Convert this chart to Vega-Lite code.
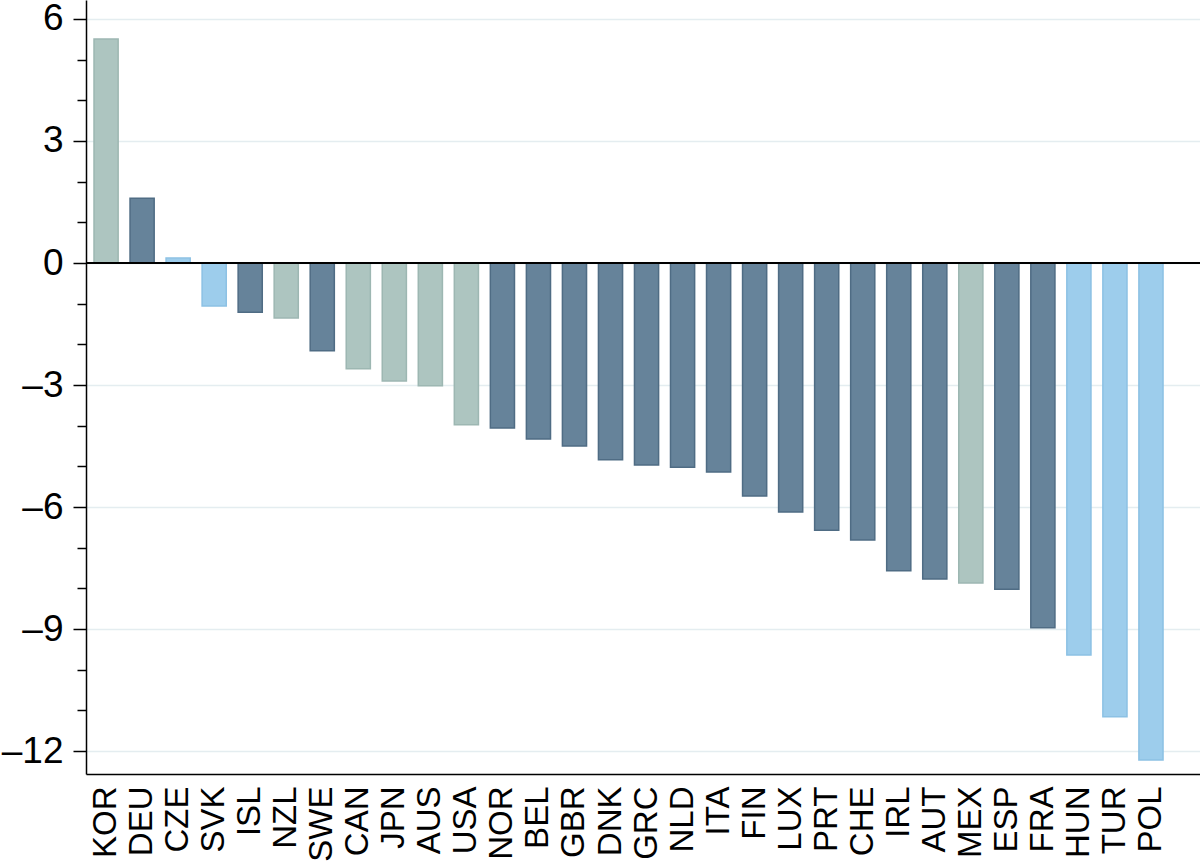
{
  "$schema": "https://vega.github.io/schema/vega-lite/v6.json",
  "width": 1114,
  "height": 774,
  "autosize": "none",
  "padding": {"left": 86, "top": 0, "right": 0, "bottom": 92},
  "background": "white",
  "config": {"view": {"stroke": null}, "font": "Liberation Sans"},
  "data": {"values": [
    {"country": "KOR", "group": "g", "value": 5.51},
    {"country": "DEU", "group": "d", "value": 1.59},
    {"country": "CZE", "group": "b", "value": 0.12},
    {"country": "SVK", "group": "b", "value": -1.06},
    {"country": "ISL", "group": "d", "value": -1.21},
    {"country": "NZL", "group": "g", "value": -1.35},
    {"country": "SWE", "group": "d", "value": -2.16},
    {"country": "CAN", "group": "g", "value": -2.6},
    {"country": "JPN", "group": "g", "value": -2.9},
    {"country": "AUS", "group": "g", "value": -3.02},
    {"country": "USA", "group": "g", "value": -3.98},
    {"country": "NOR", "group": "d", "value": -4.06},
    {"country": "BEL", "group": "d", "value": -4.33},
    {"country": "GBR", "group": "d", "value": -4.5},
    {"country": "DNK", "group": "d", "value": -4.84},
    {"country": "GRC", "group": "d", "value": -4.97},
    {"country": "NLD", "group": "d", "value": -5.02},
    {"country": "ITA", "group": "d", "value": -5.14},
    {"country": "FIN", "group": "d", "value": -5.73},
    {"country": "LUX", "group": "d", "value": -6.12},
    {"country": "PRT", "group": "d", "value": -6.57},
    {"country": "CHE", "group": "d", "value": -6.81},
    {"country": "IRL", "group": "d", "value": -7.57},
    {"country": "AUT", "group": "d", "value": -7.77},
    {"country": "MEX", "group": "g", "value": -7.87},
    {"country": "ESP", "group": "d", "value": -8.02},
    {"country": "FRA", "group": "d", "value": -8.97},
    {"country": "HUN", "group": "b", "value": -9.64},
    {"country": "TUR", "group": "b", "value": -11.16},
    {"country": "POL", "group": "b", "value": -12.22}
  ]},
  "layer": [
    {
      "mark": {"type": "bar", "strokeWidth": 1.5},
      "encoding": {
        "x": {
          "field": "country", "type": "nominal", "sort": null,
          "scale": {"paddingInner": 0.33, "paddingOuter": 0.624, "align": 0.178},
          "axis": {
            "title": null, "ticks": false, "domainColor": "black", "domainWidth": 1.5,
            "labelAngle": -90, "labelAlign": "right", "labelBaseline": "middle",
            "labelFontSize": 33, "labelColor": "black", "labelPadding": 12, "grid": false
          }
        },
        "y": {
          "field": "value", "type": "quantitative",
          "scale": {"domain": [-12.565, 6.467], "nice": false, "zero": false},
          "axis": {
            "title": null,
            "values": [-12, -11, -10, -9, -8, -7, -6, -5, -4, -3, -2, -1, 0, 1, 2, 3, 4, 5, 6],
            "labelExpr": "datum.value % 3 === 0 ? (datum.value < 0 ? '–' + abs(datum.value) : '' + datum.value) : ''",
            "labelFontSize": 37, "labelColor": "black", "labelPadding": 10,
            "tickColor": "black", "tickWidth": 1.5,
            "tickSize": {"condition": {"test": "datum.value % 3 === 0", "value": 13}, "value": 9},
            "domainColor": "black", "domainWidth": 1.5,
            "grid": true, "gridColor": "#e4edf0", "gridWidth": 1.5,
            "gridOpacity": {"condition": {"test": "datum.value % 3 === 0", "value": 1}, "value": 0},
            "labelOverlap": false
          }
        },
        "color": {
          "field": "group", "type": "nominal", "legend": null,
          "scale": {"domain": ["g", "d", "b"], "range": ["#adc5c0", "#66839a", "#9dcdec"]}
        },
        "stroke": {
          "field": "group", "type": "nominal", "legend": null,
          "scale": {"domain": ["g", "d", "b"], "range": ["#9db7b2", "#4f6c84", "#8cc1e4"]}
        }
      }
    },
    {
      "mark": {"type": "rule", "color": "black", "strokeWidth": 2},
      "encoding": {"y": {"datum": 0}}
    }
  ]
}
